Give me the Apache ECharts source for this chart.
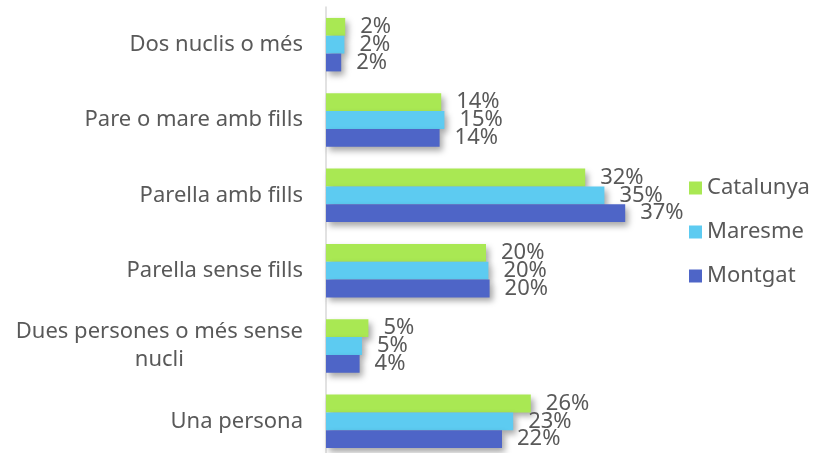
<!DOCTYPE html>
<html>
<head>
<meta charset="utf-8">
<script src="https://cdn.jsdelivr.net/npm/echarts@6/dist/echarts.min.js"></script>
<style>html,body{margin:0;padding:0;background:#fff}#c{width:816px;height:453px}</style>
</head>
<body>
<div id="c"></div>
<script>
const categories = ['Dos nuclis o més', 'Pare o mare amb fills', 'Parella amb fills', 'Parella sense fills', 'Dues persones o més sense\nnucli', 'Una persona'];
const seriesNames = ['Catalunya', 'Maresme', 'Montgat'];
const catalunya = [2.4, 14.4, 32.4, 20.0, 5.3, 25.6];
const maresme = [2.3, 14.8, 34.8, 20.3, 4.5, 23.4];
const montgat = [1.9, 14.2, 37.4, 20.45, 4.2, 22.0];
const colors = ['#A9E853', '#5DCBF1', '#4E65C7'];

const chart = echarts.init(document.getElementById('c'), null, {renderer: 'canvas'});
const FONT = 'Noto Sans';
const TXT = '#595959';
const FS = 22;
function mk(name, data, color) {
  return {
    name: name, type: 'bar', data: data,
    barGap: '0%', barCategoryGap: '29%',
    itemStyle: {color: color, shadowColor: 'rgba(0,0,0,0.35)', shadowBlur: 6, shadowOffsetX: 3, shadowOffsetY: 4},
    label: {show: true, position: 'right', distance: 15, color: TXT, fontFamily: FONT, fontSize: FS,
      formatter: p => Math.round(p.value) + '%'},
    emphasis: {disabled: true}
  };
}
chart.setOption({
  animation: false,
  grid: {left: 326, top: 7, height: 452, width: 320, containLabel: false, outerBoundsMode: 'none'},
  legend: {
    orient: 'vertical', left: 689, top: 177, padding: 0, itemWidth: 13, itemHeight: 13, itemGap: 22,
    icon: 'rect',
    textStyle: {color: TXT, fontFamily: FONT, fontSize: FS, padding: [0, 0, 0, 0]},
    data: seriesNames
  },
  xAxis: {type: 'value', min: 0, max: 40, show: false},
  yAxis: {
    type: 'category', data: categories, inverse: true,
    axisLine: {show: true, lineStyle: {color: '#D9D9D9', width: 1.5}},
    axisTick: {show: false},
    axisLabel: {
      margin: 23, color: TXT, fontFamily: FONT, fontSize: FS, lineHeight: 28,
      formatter: v => v.split('\n').map(s => '{a|' + s + '}').join('\n'),
      rich: {a: {align: 'center', color: TXT, fontFamily: FONT, fontSize: FS, lineHeight: 28}}
    }
  },
  series: [mk(seriesNames[0], catalunya, colors[0]), mk(seriesNames[1], maresme, colors[1]), mk(seriesNames[2], montgat, colors[2])]
});
</script>
</body>
</html>
